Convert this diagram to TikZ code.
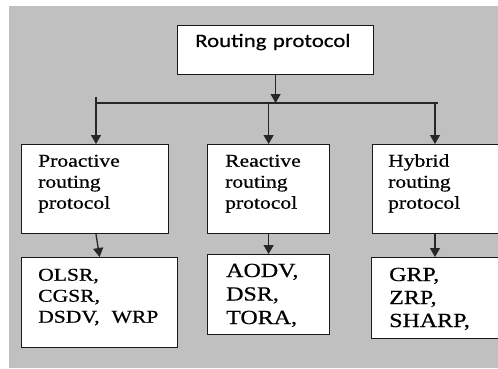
\documentclass[tikz,border=0pt]{standalone}
\usepackage{fontspec}
\setmainfont[FakeStretch=1.2,FakeBold=0.6]{Liberation Serif}
\newfontfamily\headfont[FakeStretch=1.2,FakeBold=0.4]{Carlito}
\usetikzlibrary{arrows.meta}
\definecolor{panelgray}{RGB}{192,192,192}
\tikzset{
  box/.style={draw=black!90, line width=1.2pt, fill=white, inner sep=0pt, anchor=north west},
  boxtext/.style={anchor=base west, inner sep=0pt, text width=#1, align=left},
  link/.style={line width=1.3pt, draw=black!85, -{Triangle[width=10pt,length=9pt]}},
  plain/.style={line width=1.3pt, draw=black!85}
}
\begin{document}
\begin{tikzpicture}[x=1pt,y=-1pt]
  \clip (0,0) rectangle (498,369);
  \fill[panelgray] (9,6) rectangle (498,368);

  \node[box, minimum width=196pt, minimum height=49pt] (top) at (177,25) {};
  \node[boxtext=170pt, font=\headfont\fontsize{19}{23}\selectfont] (toptxt) at (195,47) {Routing protocol};

  \node[box, minimum width=147pt, minimum height=89pt] (pro) at (21,144) {};
  \node[box, minimum width=122pt, minimum height=89pt] (rea) at (207,144) {};
  \node[box, minimum width=140pt, minimum height=89pt] (hyb) at (372,144) {};
  \node[boxtext=120pt, font=\fontsize{18}{21}\selectfont] (protxt) at (38,166.7) {Proactive\\routing\\protocol};
  \node[boxtext=100pt, font=\fontsize{18}{21}\selectfont] (reatxt) at (225,166.7) {Reactive\\routing\\protocol};
  \node[boxtext=100pt, font=\fontsize{18}{21}\selectfont] (hybtxt) at (388,166.7) {Hybrid\\routing\\protocol};

  \node[box, minimum width=156pt, minimum height=90pt] (olsr) at (21,257) {};
  \node[box, minimum width=122pt, minimum height=80pt] (aodv) at (207,254) {};
  \node[box, minimum width=140pt, minimum height=81pt] (grp) at (371,257) {};
  \node[boxtext=130pt, font=\fontsize{18}{21}\selectfont] (olsrtxt) at (38,280.7) {OLSR,\\CGSR,\\DSDV,~~WRP};
  \node[boxtext=100pt, font=\fontsize{20}{23.5}\selectfont] (aodvtxt) at (226,277) {AODV,\\DSR,\\TORA,};
  \node[boxtext=100pt, font=\fontsize{20}{23}\selectfont] (grptxt) at (389,281) {GRP,\\ZRP,\\SHARP,};

  \coordinate (barL) at (96,103);
  \coordinate (barR) at (438,103);
  \coordinate (barH) at (435,103);
  \coordinate (tickL) at (96,97);

  \draw[plain] (barL) -- (barR);
  \draw[link] (top.south) -- (top.south |- barL);
  \draw[link] (tickL) -- (tickL |- pro.north);
  \draw[link] (rea.north |- barL) -- (rea.north);
  \draw[link] (barH) -- (barH |- hyb.north);

  \draw[link] (tickL |- pro.south) -- (olsr.north);
  \draw[link] (rea.south) -- (aodv.north);
  \draw[link] (barH |- hyb.south) -- (barH |- grp.north);
\end{tikzpicture}
\end{document}
